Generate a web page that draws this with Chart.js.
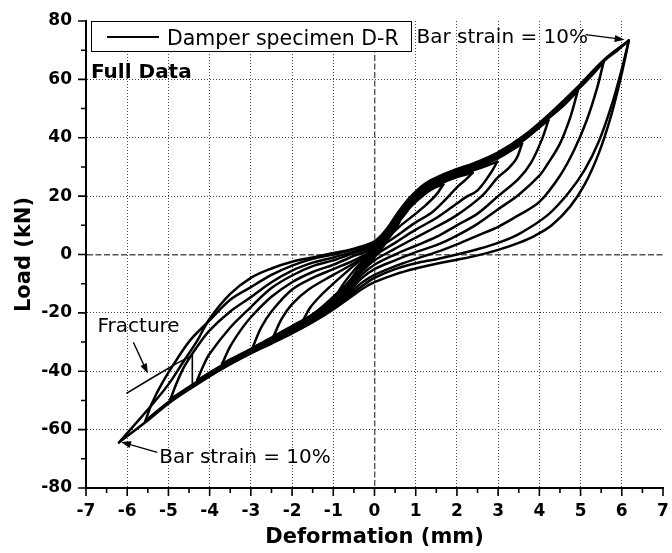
<!DOCTYPE html>
<html>
<head>
<meta charset="utf-8">
<script src="https://cdn.jsdelivr.net/npm/chart.js@4"></script>
<style>
  html, body { margin: 0; padding: 0; background: #fff; }
</style>
</head>
<body>
<canvas id="chart" width="672" height="553"></canvas>
<script>
// hysteresis branches, [deformation mm, load kN], in loading order
const up0 = [[0,0],[0.15,3],[0.35,6.5]];
const down0 = [[0.35,6.5],[0.25,3.5],[0.1,1],[0,-1],[-0.15,-3],[-0.35,-6]];
const up1 = [[-0.35,-6],[-0.25,-3.5],[-0.1,-1],[0,1],[0.2,4.5],[0.4,8],[0.6,11]];
const down1 = [[0.6,11],[0.45,7.5],[0.25,4],[0,0.5],[-0.2,-2.5],[-0.4,-6],[-0.6,-10]];
const up2 = [[-0.6,-10],[-0.45,-6.5],[-0.25,-3],[0,1.5],[0.3,7.5],[0.55,12],[0.75,15.5],[0.95,18.5]];
const down2 = [[0.95,18.5],[0.8,15],[0.55,10.5],[0.3,6],[0,2],[-0.3,-3],[-0.6,-9],[-0.8,-12.5],[-1,-16]];
const up3 = [[-1,-16],[-0.8,-11],[-0.5,-5.5],[-0.2,-1],[0,1.5],[0.3,6.5],[0.55,11],[0.85,16],[1.2,20.5],[1.45,22.8],[1.67,24]];
const down3 = [[1.67,24],[1.5,20.5],[1.25,17],[1,14],[0.6,9.5],[0.3,5.5],[0,2],[-0.3,-3.5],[-0.6,-9],[-1,-14.5],[-1.4,-19.5],[-1.75,-23]];
const up4 = [[-1.75,-23],[-1.55,-18],[-1.3,-14],[-1,-10],[-0.6,-5],[-0.3,-1.5],[0,1],[0.3,6.8],[0.55,11.3],[0.85,16.5],[1.2,21],[1.6,24.2],[2,26.5],[2.38,28]];
const down4 = [[2.38,28],[2.2,25.5],[2,23],[1.7,18.5],[1.4,14.5],[1,11],[0.5,6],[0,1],[-0.3,-4.5],[-0.6,-9.5],[-1,-15],[-1.5,-20.5],[-2,-24.5],[-2.45,-28]];
const up5 = [[-2.45,-28],[-2.25,-22],[-2,-17],[-1.6,-12],[-1,-7],[-0.5,-3],[0,1.5],[0.3,7],[0.55,11.7],[0.85,17],[1.2,21.5],[1.6,24.6],[2,26.9],[2.4,28.8],[2.7,30.3],[2.98,31.8]];
const down5 = [[2.98,31.8],[2.8,27.5],[2.5,22],[2.2,19.5],[2,17.5],[1.5,12.5],[1,8.5],[0.5,4],[0,-0.5],[-0.3,-5],[-0.6,-10],[-1,-15.5],[-1.5,-21],[-2,-25],[-2.5,-28.5],[-2.96,-32]];
const up6 = [[-2.96,-32],[-2.75,-25],[-2.5,-19.5],[-2,-12],[-1.5,-8],[-1,-5],[-0.5,-2],[0,2],[0.3,7.3],[0.55,12],[0.85,17.4],[1.2,22],[1.6,25],[2,27.3],[2.4,29.2],[3,33],[3.3,35.5],[3.58,38]];
const down6 = [[3.58,38],[3.45,33],[3.25,29.5],[3,26.5],[2.6,20],[2,13.5],[1.5,9.5],[1,5.8],[0.5,2],[0,-2],[-0.3,-5.8],[-0.6,-10.8],[-1,-16],[-1.5,-21.4],[-2,-25.4],[-2.5,-28.9],[-3,-32.3],[-3.7,-37.5]];
const up7 = [[-3.7,-37.5],[-3.5,-31.5],[-3.25,-26],[-3,-21.5],[-2.5,-14.5],[-2,-9.5],[-1.5,-6],[-1,-3.5],[-0.5,-0.5],[0,2.5],[0.3,7.6],[0.55,12.4],[0.85,17.8],[1.2,22.4],[1.6,25.4],[2,27.7],[2.4,29.6],[3,33.4],[3.6,38.9],[4,43.5],[4.22,46]];
const down7 = [[4.22,46],[4.05,39],[3.8,31.5],[3.5,26],[3,20],[2.5,14],[2,10],[1.5,6],[1,3],[0.5,0],[0,-3.5],[-0.3,-6.8],[-0.6,-11.5],[-1,-16.6],[-1.5,-21.8],[-2,-25.8],[-2.5,-29.3],[-3,-32.7],[-3.7,-38],[-4.3,-43]];
const up8 = [[-4.3,-43],[-4.15,-38],[-4,-34],[-3.5,-25],[-3,-18],[-2.5,-11.5],[-2,-7.2],[-1.5,-4],[-1,-2],[-0.5,0.5],[0,3],[0.3,7.9],[0.55,12.8],[0.85,18.2],[1.2,22.8],[1.6,25.8],[2,28.1],[2.4,30],[3,33.8],[3.6,39.3],[4.2,46.4],[4.6,51.2],[4.93,56]];
const down8 = [[4.93,56],[4.75,47],[4.5,38],[4.2,31],[4,27],[3.5,20.5],[3,15.5],[2.5,10.5],[2,6.5],[1.5,3.2],[1,0.8],[0.5,-2],[0,-5],[-0.3,-8],[-0.6,-12.3],[-1,-17.2],[-1.5,-22.2],[-2,-26.2],[-2.5,-29.7],[-3,-33.1],[-3.7,-38.4],[-4.3,-43.5],[-4.95,-49.5]];
const up9 = [[-4.95,-49.5],[-4.8,-44],[-4.6,-38],[-4.3,-31.5],[-4,-26],[-3.5,-19.5],[-3,-14.6],[-2.5,-9.5],[-2,-5.5],[-1.5,-2.8],[-1,-1],[-0.5,1],[0,3.5],[0.3,8.2],[0.55,13.2],[0.85,18.6],[1.2,23.2],[1.6,26.2],[2,28.5],[2.4,30.4],[3,34.2],[3.6,39.7],[4.2,46.8],[4.9,56],[5.25,61],[5.56,66]];
const down9 = [[5.56,66],[5.4,57],[5.15,46],[4.85,36],[4.5,27],[4,18],[3.5,13.5],[3,9.5],[2.5,6.5],[2,3.5],[1.5,0.8],[1,-1.5],[0.5,-4],[0,-7],[-0.3,-9.6],[-0.6,-13.2],[-1,-17.8],[-1.5,-22.6],[-2,-26.6],[-2.5,-30.1],[-3,-33.5],[-3.7,-38.8],[-4.3,-44],[-4.95,-50],[-5.56,-57]];
const up10 = [[-5.56,-57],[-5.4,-51],[-5.15,-44],[-4.8,-36],[-4.45,-29],[-4,-22.6],[-3.5,-15.5],[-3,-11.2],[-2.5,-7],[-2,-3.8],[-1.5,-1.5],[-1,0],[-0.5,1.8],[0,4],[0.3,8.5],[0.55,13.6],[0.85,19],[1.2,23.6],[1.6,26.6],[2,28.9],[2.4,30.8],[3,34.6],[3.6,40.1],[4.2,47.2],[4.9,56.6],[5.56,66.2],[5.9,70],[6.17,73.3]];
const down10 = [[6.17,73.3],[6,62],[5.75,48],[5.45,35],[5.1,24],[4.75,16.5],[4.3,10],[3.9,6.5],[3.5,4],[3,1.6],[2.5,-0.3],[2,-1.8],[1.5,-3.2],[1,-4.8],[0.5,-6.8],[0,-9.5],[-0.3,-11.8],[-0.6,-14.8],[-1,-18.8],[-1.5,-23.2],[-2,-27],[-2.5,-30.5],[-3,-33.9],[-3.7,-39.2],[-4.3,-44.4],[-4.95,-50.5],[-5.56,-57.5],[-6.2,-64.4]];
const up11 = [[-6.2,-64.4],[-5.8,-58],[-5.4,-51.5],[-5,-44.5],[-4.65,-37],[-4.3,-29.5],[-4,-22],[-3.5,-13.5],[-3,-8],[-2.5,-4.8],[-2,-2.5],[-1.5,-1],[-1,0.5],[-0.5,2],[0,4.5],[0.3,8.8],[0.55,14],[0.85,19.4],[1.2,24],[1.6,27],[2,29.3],[2.4,31.2],[3,35],[3.6,40.5],[4.2,47.6],[4.9,57],[5.56,66.6],[6.17,73.3]];
const down11 = [[6.17,73.3],[6,63.5],[5.75,51],[5.45,39],[5.1,29],[4.7,21],[4.2,13.5],[3.5,7],[3,4],[2.5,1.8],[2,0],[1.5,-1.6],[1,-3],[0.5,-5],[0,-8],[-0.3,-10.8],[-0.6,-14],[-1,-18.3],[-1.5,-23],[-2,-26.9],[-2.5,-30.3],[-3,-33.7],[-3.7,-39],[-4.42,-45.3]];
const fracture = [[-4.42,-45.3],[-4.42,-34.6],[-4.8,-37.3],[-5.4,-42.3],[-6.02,-47.6]];

const branches = [up0, down0, up1, down1, up2, down2, up3, down3, up4, down4, up5, down5,
  up6, down6, up7, down7, up8, down8, up9, down9, up10, down10, up11, down11];

const xTickStep = 1;
const yTickStep = 20;

const FONT = "'DejaVu Sans', sans-serif";
Chart.defaults.font.family = FONT;
Chart.defaults.color = '#000';

const datasets = branches.map((b, i) => ({
  label: i === 0 ? 'Damper specimen D-R' : '',
  data: b.map(([x, y]) => ({ x, y })),
  showLine: true,
  borderColor: '#000',
  borderWidth: 2.5,
  pointRadius: 0,
  tension: 0.35,
  borderCapStyle: 'round',
  borderJoinStyle: 'round'
}));
datasets.push({
  label: '',
  data: fracture.map(([x, y]) => ({ x, y })),
  showLine: true,
  borderColor: '#000',
  borderWidth: 1.6,
  pointRadius: 0,
  tension: 0
});

const gridColor = (edge) => (c) => {
  const v = c.tick ? c.tick.value : null;
  if (v === 0) return '#555';
  if (Math.abs(v) === edge) return 'rgba(0,0,0,0)';
  return '#444';
};
const gridDash = (c) => (c.tick && c.tick.value === 0 ? [6, 2.5] : [1, 2]);

// ticks outside the axes, majors + minors
const tickMarks = {
  id: 'tickMarks',
  afterDraw(chart) {
    const { ctx, chartArea: a, scales: { x, y } } = chart;
    ctx.save();
    ctx.strokeStyle = '#000';
    ctx.lineWidth = 1.6;
    ctx.beginPath();
    for (let v = x.min; v <= x.max + 1e-9; v += xTickStep / 2) {
      const p = x.getPixelForValue(v);
      const len = Math.abs(v % xTickStep) < 1e-9 ? 8 : 5;
      ctx.moveTo(p, a.bottom);
      ctx.lineTo(p, a.bottom + len);
    }
    for (let v = y.min; v <= y.max + 1e-9; v += yTickStep / 2) {
      const p = y.getPixelForValue(v);
      const len = Math.abs(v % yTickStep) < 1e-9 ? 8 : 5;
      ctx.moveTo(a.left, p);
      ctx.lineTo(a.left - len, p);
    }
    ctx.stroke();
    ctx.restore();
  }
};

function arrow(ctx, x1, y1, x2, y2) {
  const ang = Math.atan2(y2 - y1, x2 - x1);
  ctx.beginPath();
  ctx.moveTo(x1, y1);
  ctx.lineTo(x2 - 6 * Math.cos(ang), y2 - 6 * Math.sin(ang));
  ctx.stroke();
  ctx.beginPath();
  ctx.moveTo(x2, y2);
  ctx.lineTo(x2 - 10 * Math.cos(ang) + 3.5 * Math.sin(ang), y2 - 10 * Math.sin(ang) - 3.5 * Math.cos(ang));
  ctx.lineTo(x2 - 10 * Math.cos(ang) - 3.5 * Math.sin(ang), y2 - 10 * Math.sin(ang) + 3.5 * Math.cos(ang));
  ctx.closePath();
  ctx.fill();
}

const notes = {
  id: 'notes',
  afterDraw(chart) {
    const { ctx, chartArea: a, scales: { x, y } } = chart;
    const X = (v) => x.getPixelForValue(v);
    const Y = (v) => y.getPixelForValue(v);
    ctx.save();
    // legend box
    ctx.fillStyle = '#fff';
    ctx.fillRect(a.left + 5, a.top, 320, 30);
    ctx.strokeStyle = '#000';
    ctx.lineWidth = 1;
    ctx.strokeRect(a.left + 5.5, a.top + 0.5, 320, 30);
    ctx.lineWidth = 2;
    ctx.beginPath();
    ctx.moveTo(a.left + 21, a.top + 16);
    ctx.lineTo(a.left + 73, a.top + 16);
    ctx.stroke();
    ctx.fillStyle = '#000';
    ctx.textBaseline = 'alphabetic';
    ctx.font = '20.5px ' + FONT;
    ctx.fillText(chart.data.datasets[0].label, a.left + 81, a.top + 23.5);

    ctx.font = 'bold 20px ' + FONT;
    ctx.fillText('Full Data', X(-6.88), Y(60.3));

    ctx.font = '20px ' + FONT;
    ctx.lineWidth = 1.3;
    ctx.fillText('Bar strain = 10%', X(1.02), Y(72.3));
    arrow(ctx, X(5.12), Y(75.3), X(6.07), Y(73.6));
    ctx.fillText('Bar strain = 10%', X(-5.22), Y(-71.6));
    arrow(ctx, X(-5.27), Y(-67.8), X(-6.15), Y(-64.2));
    ctx.fillText('Fracture', X(-6.72), Y(-26.4));
    arrow(ctx, X(-5.85), Y(-30.1), X(-5.5), Y(-40.8));
    ctx.restore();
  }
};

new Chart(document.getElementById('chart'), {
  type: 'scatter',
  data: { datasets },
  options: {
    responsive: false,
    animation: false,
    layout: { padding: { top: 21, right: 9, left: 0, bottom: 0 } },
    plugins: { legend: { display: false }, tooltip: { enabled: false } },
    scales: {
      x: {
        type: 'linear',
        min: -7,
        max: 7,
        afterFit: (s) => { s.height = 65; s.paddingRight = 0; s.paddingLeft = 0; },
        ticks: { stepSize: xTickStep, padding: 13, color: '#000', font: { size: 17, weight: 'bold' } },
        grid: { drawTicks: false, color: gridColor(7), lineWidth: (c) => (c.tick && c.tick.value === 0 ? 1.4 : 1) },
        border: { display: true, color: '#000', width: 2, dash: gridDash },
        title: { display: true, text: 'Deformation (mm)', color: '#000', font: { size: 21, weight: 'bold' }, padding: { top: 0, bottom: 3 } }
      },
      y: {
        type: 'linear',
        min: -80,
        max: 80,
        afterFit: (s) => { s.width = 86; s.paddingTop = 0; s.paddingBottom = 0; },
        ticks: { stepSize: yTickStep, padding: 14, color: '#000', font: { size: 17, weight: 'bold' } },
        grid: { drawTicks: false, color: gridColor(80), lineWidth: (c) => (c.tick && c.tick.value === 0 ? 1.4 : 1) },
        border: { display: true, color: '#000', width: 2, dash: gridDash },
        title: { display: true, text: 'Load (kN)', color: '#000', font: { size: 21, weight: 'bold' }, padding: { top: 12, bottom: 0 } }
      }
    }
  },
  plugins: [tickMarks, notes]
});
</script>
</body>
</html>
